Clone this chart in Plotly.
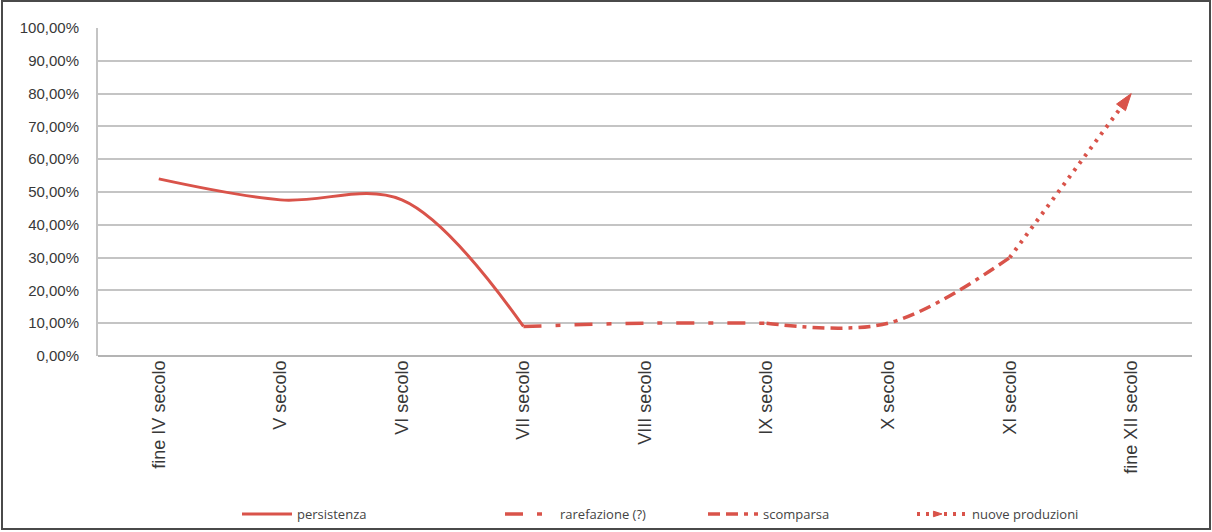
import plotly.graph_objects as go

# Categories (centuries) and the share of each production trend
categories = ["fine IV secolo", "V secolo", "VI secolo", "VII secolo", "VIII secolo",
              "IX secolo", "X secolo", "XI secolo", "fine XII secolo"]

persistenza_x = categories[0:4]
persistenza_y = [54.0, 47.6, 47.6, 9.0]

rarefazione_x = categories[3:6]
rarefazione_y = [9.0, 10.0, 10.0]

scomparsa_x = categories[5:8]
scomparsa_y = [10.0, 10.0, 30.0]

nuove_x = categories[7:9]
nuove_y = [30.0, 80.0]

y_ticks = [0, 10, 20, 30, 40, 50, 60, 70, 80, 90, 100]
y_ticktext = [f"{v:.2f}".replace(".", ",") + "%" for v in y_ticks]

RED = "#d9534a"
W, H = 1212, 532
ML, MR, MT, MB = 98, 20, 28, 176

fig = go.Figure()

fig.add_trace(go.Scatter(
    x=persistenza_x, y=persistenza_y, name="persistenza", mode="lines",
    line=dict(color=RED, width=3, shape="spline"), legend="legend"))

fig.add_trace(go.Scatter(
    x=rarefazione_x, y=rarefazione_y, name="rarefazione (?)", mode="lines",
    line=dict(color=RED, width=3.5, shape="spline", dash="18px,14px,5px,14px"),
    legend="legend2"))

fig.add_trace(go.Scatter(
    x=scomparsa_x, y=scomparsa_y, name="scomparsa", mode="lines",
    line=dict(color=RED, width=3.5, shape="spline", dash="12px,6px,12px,6px,4px,6px"),
    legend="legend3"))

fig.add_trace(go.Scatter(
    x=nuove_x, y=nuove_y, name="nuove produzioni", mode="lines+markers",
    line=dict(color=RED, width=4, dash="3px,6px"),
    marker=dict(symbol="arrow", size=[0, 18], color=RED, opacity=1,
                angleref="previous", line=dict(color=RED, width=1)),
    legend="legend4"))

# outer frame around the whole figure
pw = W - ML - MR
ph = H - MT - MB
def px_x(p):
    return (p - ML) / pw
def px_y(p):
    return (H - MB - p) / ph

fig.add_shape(type="rect", xref="paper", yref="paper",
              x0=px_x(2), x1=px_x(1210), y0=px_y(529), y1=px_y(1),
              line=dict(color="#4a4a4a", width=2), layer="below")

legend_font = dict(family="Open Sans", size=13, color="#444444")
legend_common = dict(orientation="h", xref="container", yref="container",
                     yanchor="middle", y=1 - 514 / H, font=legend_font,
                     bgcolor="rgba(0,0,0,0)", itemwidth=50)

fig.update_layout(
    width=W, height=H,
    margin=dict(l=ML, r=MR, t=MT, b=MB),
    paper_bgcolor="white", plot_bgcolor="white",
    showlegend=True,
    legend=dict(x=237 / W, **legend_common),
    legend2=dict(x=500 / W, **legend_common),
    legend3=dict(x=703 / W, **legend_common),
    legend4=dict(x=912 / W, **legend_common),
    xaxis=dict(
        type="category", categoryorder="array", categoryarray=categories,
        range=[-0.5, len(categories) - 0.5],
        tickangle=-90, showgrid=False, showline=False, zeroline=False,
        ticks="", ticklen=0,
        tickfont=dict(family="Liberation Sans", size=18, color="#383838"),
    ),
    yaxis=dict(
        range=[0, 100], tickvals=y_ticks, ticktext=y_ticktext,
        showgrid=True, gridcolor="#c4c4c4", gridwidth=2,
        showline=True, linecolor="#c4c4c4", linewidth=2,
        zeroline=True, zerolinecolor="#b4b4b4", zerolinewidth=2,
        ticks="", ticklabelstandoff=14,
        tickfont=dict(family="Liberation Sans", size=15, color="#383838"),
    ),
)

fig.write_html("out.html")
